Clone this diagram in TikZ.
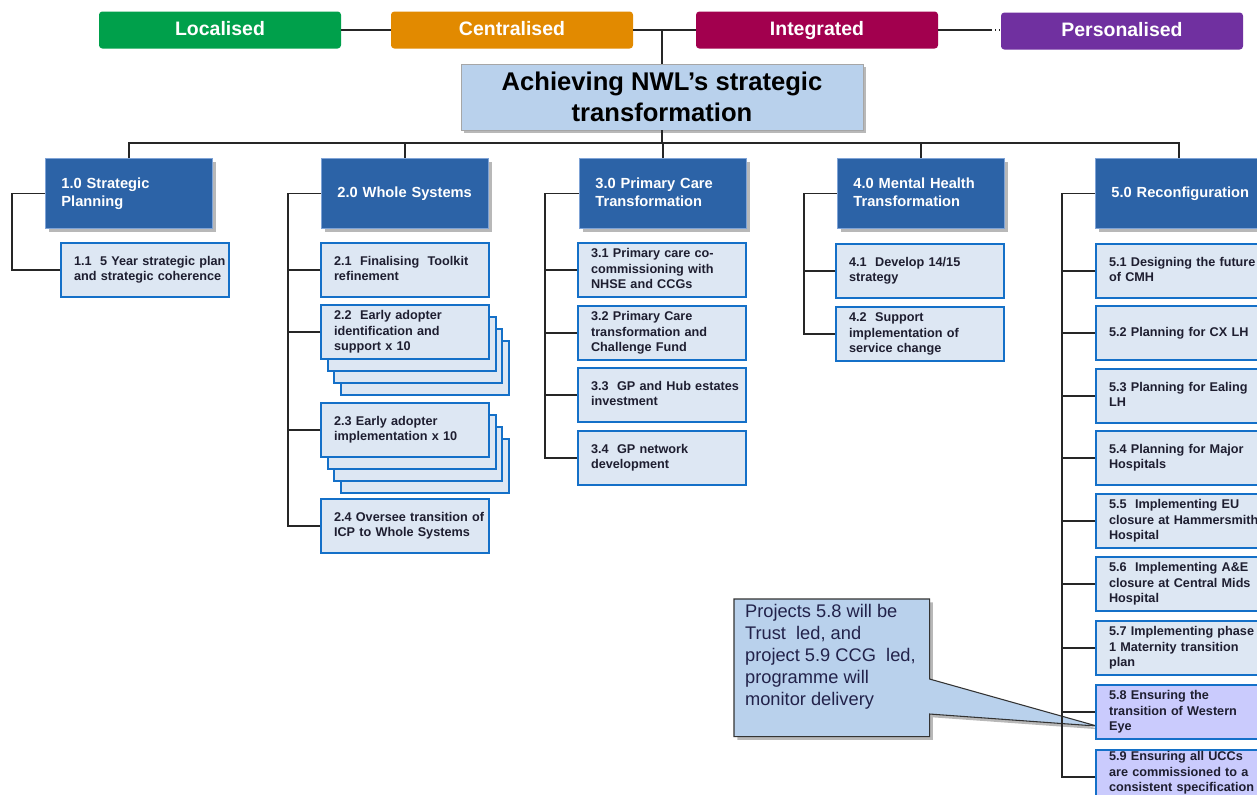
\documentclass[tikz,border=0pt]{standalone}
\usepackage{fontspec}
\setmainfont{Liberation Sans}
\usetikzlibrary{shadows,backgrounds,calc}

\definecolor{locgreen}{HTML}{00A04B}
\definecolor{cenorange}{HTML}{E28A00}
\definecolor{intred}{HTML}{A2004E}
\definecolor{perpurple}{HTML}{7030A0}
\definecolor{titlefill}{HTML}{B9D1EC}
\definecolor{headfill}{HTML}{2C63A7}
\definecolor{headline}{HTML}{7FA3D6}
\definecolor{itemfill}{HTML}{DDE7F3}
\definecolor{itemline}{HTML}{1470C8}
\definecolor{lavfill}{HTML}{CACBFD}
\definecolor{itemtext}{HTML}{1E1E30}
\definecolor{notetext}{HTML}{22224A}

% box labels keep their own line breaks and never wrap
\newcommand{\rows}[1]{\begin{tabular}{@{}l@{}}#1\end{tabular}}

\begin{document}
\begin{tikzpicture}[x=0.75pt,y=-0.75pt,
  phase/.style={rounded corners=2.5pt, minimum width=181.5pt, minimum height=27.75pt,
    inner sep=0pt, text height=10.6pt, text depth=3pt, text=white,
    font=\fontsize{14.6}{16}\selectfont\bfseries},
  softshadow/.style={drop shadow={shadow xshift=2.5pt, shadow yshift=-2.5pt,
    fill=black!55, opacity=0.5}},
  titlebox/.style={fill=titlefill, draw=gray!70, line width=0.6pt, minimum width=301.5pt,
    minimum height=49.5pt, align=center, inner sep=0pt,
    font=\fontsize{19.2}{23.3}\selectfont\bfseries, softshadow},
  headbox/.style={anchor=north west, fill=headfill, draw=headline, line width=0.6pt,
    minimum width=125.25pt, minimum height=52.5pt, text width=101.25pt, inner xsep=12pt,
    inner ysep=0pt, align=left, text=white, font=\fontsize{11}{13.5}\selectfont\bfseries,
    softshadow},
  itembox/.style={anchor=north west, fill=itemfill, draw=itemline, line width=1.6pt,
    minimum width=126pt, minimum height=40.5pt, text width=106.5pt, inner xsep=9.75pt,
    inner ysep=0pt, align=left, text=itemtext,
    font=\fontsize{9.5}{11.6}\selectfont\bfseries},
  link/.style={draw=black!85, line width=0.9pt},
]
\useasboundingbox (0,0) rectangle (1257,794);
\clip (0,0) rectangle (1257,794);

% phase banner
\node[phase, fill=locgreen]  (loc) at (220,30)  {Localised};
\node[phase, fill=cenorange] (cen) at (512,30)  {Centralised};
\node[phase, fill=intred]    (int) at (817,30)  {Integrated};
\node[phase, fill=perpurple] (per) at (1122,31) {Personalised};

% programme title
\node[titlebox] (title) at (662,97) {Achieving NWL’s strategic\\transformation};

% workstream headers
\node[headbox] (h1) at (45,158)   {\rows{1.0 Strategic\\Planning}};
\node[headbox] (h2) at (321,158)  {\rows{2.0 Whole Systems}};
\node[headbox] (h3) at (579,158)  {\rows{3.0 Primary Care\\Transformation}};
\node[headbox] (h4) at (837,158)  {\rows{4.0 Mental Health\\Transformation}};
\node[headbox] (h5) at (1095,158) {\rows{5.0 Reconfiguration}};

% 1.0 projects
\node[itembox] (i11) at (60,242) {\rows{1.1\ \ 5 Year strategic plan\\and strategic coherence}};

% 2.0 projects (2.2 and 2.3 are stacks of repeated projects)
\node[itembox] (i21) at (320,242) {\rows{2.1\ \ Finalising\ \ Toolkit\\refinement}};
\node[itembox] (i22c) at (340,340) {};
\node[itembox] (i22b) at (333,328) {};
\node[itembox] (i22a) at (327,316) {};
\node[itembox] (i22) at (320,304) {\rows{2.2\ \ Early adopter\\identification and\\support x 10}};
\node[itembox] (i23c) at (340,438) {};
\node[itembox] (i23b) at (333,426) {};
\node[itembox] (i23a) at (327,414) {};
\node[itembox] (i23) at (320,402) {\rows{2.3 Early adopter\\implementation x 10}};
\node[itembox] (i24) at (320,498) {\rows{2.4 Oversee transition of\\ICP to Whole Systems}};

% 3.0 projects
\node[itembox] (i31) at (577,242) {\rows{3.1 Primary care co-\\commissioning with\\NHSE and CCGs}};
\node[itembox] (i32) at (577,305) {\rows{3.2 Primary Care\\transformation and\\Challenge Fund}};
\node[itembox] (i33) at (577,367) {\rows{3.3\ \ GP and Hub estates\\investment}};
\node[itembox] (i34) at (577,430) {\rows{3.4\ \ GP network\\development}};

% 4.0 projects
\node[itembox] (i41) at (835,243) {\rows{4.1\ \ Develop 14/15\\strategy}};
\node[itembox] (i42) at (835,306) {\rows{4.2\ \ Support\\implementation of\\service change}};

% 5.0 projects
\node[itembox] (i51) at (1095,243) {\rows{5.1 Designing the future\\of CMH}};
\node[itembox] (i52) at (1095,305) {\rows{5.2 Planning for CX LH}};
\node[itembox] (i53) at (1095,368) {\rows{5.3 Planning for Ealing\\LH}};
\node[itembox] (i54) at (1095,430) {\rows{5.4 Planning for Major\\Hospitals}};
\node[itembox] (i55) at (1095,493) {\rows{5.5\ \ Implementing EU\\closure at Hammersmith\\Hospital}};
\node[itembox] (i56) at (1095,556) {\rows{5.6\ \ Implementing A\&E\\closure at Central Mids\\Hospital}};
\node[itembox] (i57) at (1095,620) {\rows{5.7 Implementing phase\\1 Maternity transition\\plan}};
\node[itembox, fill=lavfill] (i58) at (1095,684) {\rows{5.8 Ensuring the\\transition of Western\\Eye}};
\node[itembox, fill=lavfill] (i59) at (1095,749)
  {\raisebox{3pt}[\height][\depth]{\rows{5.9 Ensuring all UCCs\\are commissioned to a\\consistent specification}}};

% note on delivery of 5.8 and 5.9
\node[anchor=north west, minimum width=146.25pt, minimum height=102.75pt, inner sep=0pt]
  (note) at (734,599)
  {\parbox[c][96pt][t]{130pt}{\raggedright\color{notetext}\fontsize{13.7}{16.5}\selectfont
   Projects 5.8 will be\\Trust\ \ led, and\\project 5.9 CCG\ \ led,\\programme will\\monitor delivery}};

\begin{scope}[on background layer]
  \fill[white] (0,0) rectangle (1257,794);
  \draw[fill=titlefill, draw=black!80, line width=0.8pt, softshadow]
    (note.north west) -- (note.north east) -- ($(note.north east)+(0,80)$)
    -- ($(i58.west)+(2,14)$) -- ($(note.north east)+(0,115)$)
    -- (note.south east) -- (note.south west) -- cycle;
\end{scope}

% banner connectors
\draw[link] (loc) -- (cen);
\draw[link] (cen) -- (cen -| int.west);
\draw[link] (title.north) -- (title.north |- cen.east);
\draw[link, line width=1.8pt] (title.north |- cen.east) -- (cen -| int.west);
\draw[link] (int.east) -- ++(53,0) coordinate (gap);
\draw[link, dotted] (gap) -- (gap -| per.west);

% title to workstreams
\coordinate (bus) at (662,143);
\draw[link] (title.south) -- (bus);
\draw[link] (h1.north) |- (bus) -| (h5.north);
\foreach \h in {h2,h3,h4} \draw[link] (\h.north) -- (\h.north |- bus);

% workstreams to projects
\draw[link] (h1.west) -- ++(-33,0) |- (i11.west);

\draw[link] (h2.west) -- ++(-33,0) |- (i24.west);
\foreach \i in {i21,i22,i23} \draw[link] (\i.west) -- ++(-32,0);

\draw[link] (h3.west) -- ++(-34,0) |- (i34.west);
\foreach \i in {i31,i32,i33} \draw[link] (\i.west) -- ++(-32,0);

\draw[link] (h4.west) -- ++(-33,0) |- (i42.west);
\draw[link] (i41.west) -- ++(-31,0);

\draw[link] (h5.west) -- ++(-33,0) |- (i59.west);
\foreach \i in {i51,i52,i53,i54,i55,i56,i57,i58} \draw[link] (\i.west) -- ++(-33,0);
\end{tikzpicture}
\end{document}
